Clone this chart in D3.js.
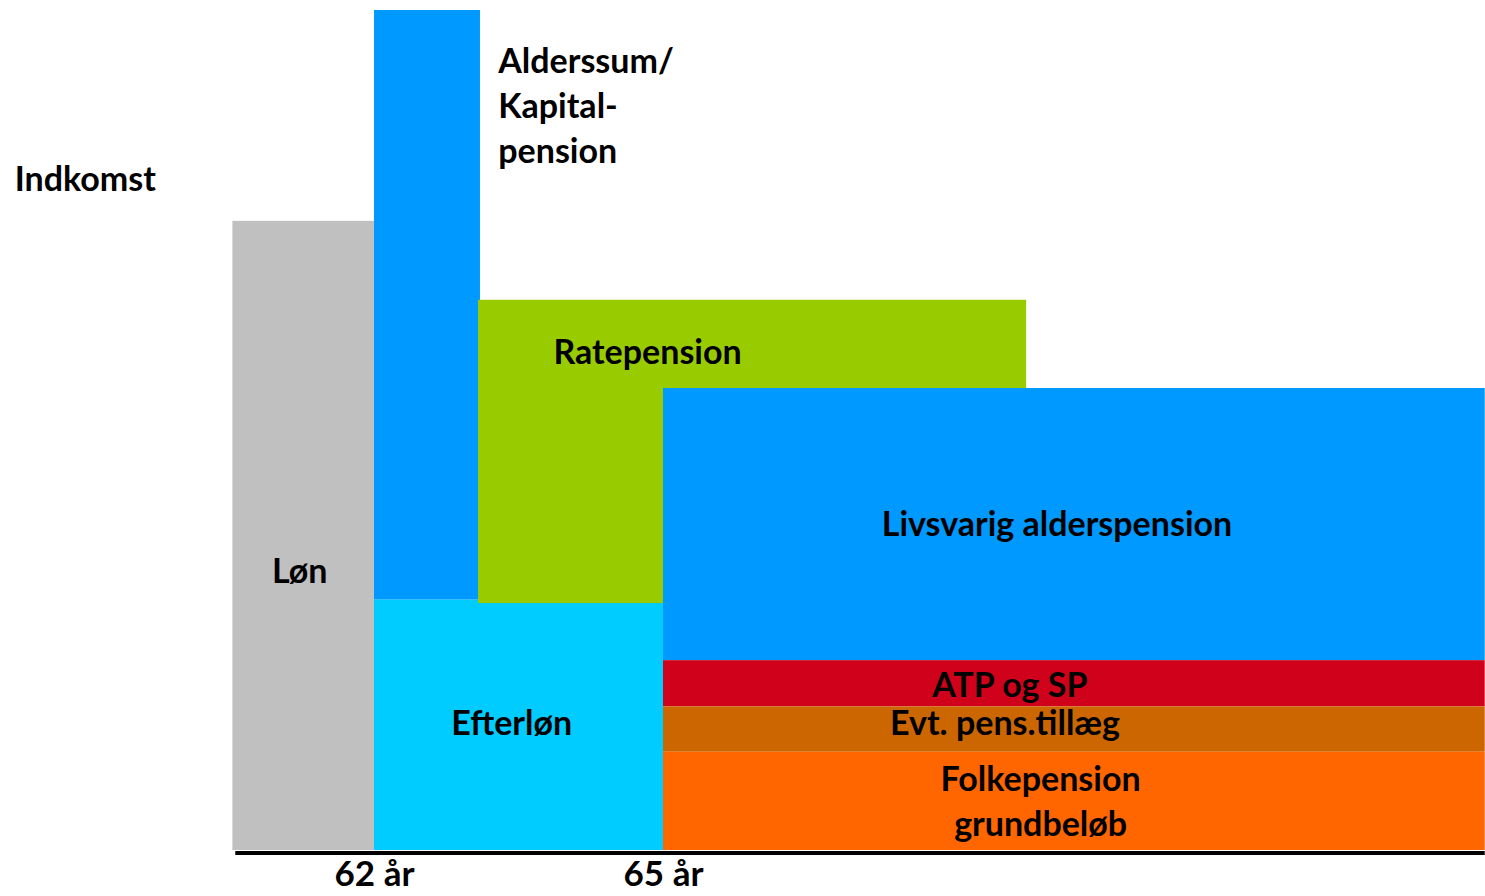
<!DOCTYPE html>
<html>
<head>
<meta charset="utf-8">
<script src="https://cdn.jsdelivr.net/npm/d3@7"></script>
<style>
  body { margin: 0; background: #fff; }
  svg text { font-family: Lato, "Open Sans", sans-serif; font-weight: bold; fill: #000; }
</style>
</head>
<body>
<div id="chart"></div>
<script>
// pension blocks: age span (x0..x1) and income span (y0..y1)
var names  = ["Løn", "Alderssum", "Efterløn", "Ratepension", "Livsvarig", "ATP", "Evt", "Folkepension"];
var ageFrom = [60.53, 62, 62, 63.08, 65, 65, 65, 65];
var ageTo   = [62, 63.1, 65, 68.77, 73.53, 73.53, 73.53, 73.53];
var incFrom = [0, 29.8, 0, 29.4, 22.6, 17.1, 11.7, 0];
var incTo   = [74.9, 100, 29.8, 65.5, 55, 22.6, 17.1, 11.7];
var colors  = ["#c0c0c0", "#0099ff", "#00ccff", "#99cc00", "#0099ff", "#d0021b", "#cc6600", "#ff6600"];

var tickAges = [62, 65];

// labels: text lines, age position, income position of first line
var labels = [
    {lines: ["Indkomst"], age: 58.27, inc: 78.5, anchor: "start"},
    {lines: ["Alderssum/", "Kapital-", "pension"], age: 63.29, inc: 92.5, anchor: "start"},
    {lines: ["Ratepension"], age: 64.84, inc: 57.9, anchor: "middle"},
    {lines: ["Løn"], age: 61.23, inc: 31.8, anchor: "middle"},
    {lines: ["Livsvarig alderspension"], age: 69.09, inc: 37.4, anchor: "middle"},
    {lines: ["ATP og SP"], age: 68.6, inc: 18.2, anchor: "middle"},
    {lines: ["Evt. pens.tillæg"], age: 68.55, inc: 13.7, anchor: "middle"},
    {lines: ["Folkepension", "grundbeløb"], age: 68.92, inc: 7.0, anchor: "middle"},
    {lines: ["Efterløn"], age: 63.43, inc: 13.7, anchor: "middle"}
];

var width = 1485, height = 896;

var x = d3.scaleLinear().domain([62, 65]).range([374, 663]);
var y = d3.scaleLinear().domain([0, 100]).range([850, 10]);

var svg = d3.select("#chart").append("svg")
    .attr("width", width)
    .attr("height", height);

var blocks = names.map(function (n, i) {
    return {name: n, x0: ageFrom[i], x1: ageTo[i], y0: incFrom[i], y1: incTo[i], color: colors[i]};
});

svg.selectAll(".block").data(blocks)
    .enter().append("rect")
    .attr("class", "block")
    .attr("x", function (d) { return x(d.x0); })
    .attr("y", function (d) { return y(d.y1); })
    .attr("width", function (d) { return x(d.x1) - x(d.x0); })
    .attr("height", function (d) { return y(d.y0) - y(d.y1); })
    .style("fill", function (d) { return d.color; });

// x axis
var axis = d3.axisBottom(x)
    .tickValues(tickAges)
    .tickSize(0)
    .tickPadding(8)
    .tickFormat(function (d) { return d + " år"; });

var gx = svg.append("g")
    .attr("transform", "translate(0," + 853 + ")")
    .call(axis);

gx.select(".domain")
    .attr("d", "M" + x(60.56) + ",0H" + x(73.53))
    .style("stroke", "#000")
    .style("stroke-width", 4);

gx.selectAll(".tick text")
    .style("font-size", "35px")
    .style("font-family", "Lato, 'Open Sans', sans-serif")
    .style("font-weight", "bold")
    .attr("dy", "0.7em");

// labels
var lg = svg.selectAll(".label").data(labels)
    .enter().append("text")
    .attr("class", "label")
    .attr("text-anchor", function (d) { return d.anchor; })
    .style("font-size", "34px");

lg.selectAll("tspan")
    .data(function (d) { return d.lines.map(function (l, i) { return {t: l, d: d, i: i}; }); })
    .enter().append("tspan")
    .attr("x", function (e) { return x(e.d.age); })
    .attr("y", function (e) { return y(e.d.inc) + e.i * 45; })
    .text(function (e) { return e.t; });
</script>
</body>
</html>
